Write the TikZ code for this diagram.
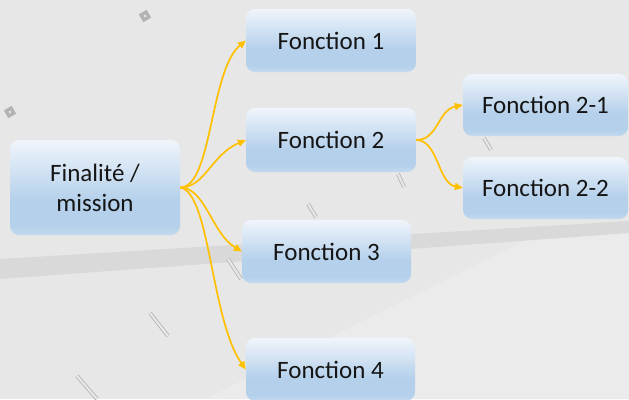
\documentclass[tikz,border=0pt]{standalone}
\usepackage{fontspec}
\setmainfont{Carlito}
\usetikzlibrary{arrows.meta}

\definecolor{bgcol}{HTML}{E7E7E7}
\definecolor{bglight}{HTML}{EBEBEB}
\definecolor{bandcol}{HTML}{D9D9D9}
\definecolor{markcol}{HTML}{B3B3B3}
\definecolor{linkcol}{HTML}{FFC000}
\definecolor{bxtop}{HTML}{F0F5FB}
\definecolor{bxblue}{HTML}{B4D0EB}
\definecolor{bxbot}{HTML}{C3DAEF}
\definecolor{txtcol}{HTML}{151515}

% vertical fill of the boxes: pale at the top, blue low down, a little lighter at the very bottom
\pgfdeclareverticalshading{boxshade}{100bp}{color(0bp)=(bxbot); color(25bp)=(bxbot); color(30bp)=(bxblue); color(43bp)=(bxblue); color(75bp)=(bxtop); color(100bp)=(bxtop)}

\tikzset{
  box/.style={rounded corners=9pt, shading=boxshade, draw=none,
    text=txtcol, align=center, inner sep=0pt,
    font=\fontsize{25}{30}\selectfont},
  link/.style={draw=linkcol, line width=1.7pt,
    -{Triangle[length=8pt,width=7pt]}},
  roadmark/.style={draw=markcol, line width=0.8pt, double=bgcol, double distance=2.2pt},
  stud/.style={fill=markcol}
}

\begin{document}
\begin{tikzpicture}[x=1pt,y=-1pt]
  \useasboundingbox (0,0) rectangle (629,399);
  % backdrop
  \fill[bgcol] (0,0) rectangle (629,399);
  \fill[bglight] (205,399) -- (535,236) -- (629,229) -- (629,399) -- cycle;
  \fill[bandcol] (0,259) -- (629,221) -- (629,233) -- (0,279) -- cycle;

  % faint road markings
  \draw[roadmark] (308,204) -- (316,217);
  \draw[roadmark] (228,259) -- (241,279);
  \draw[roadmark] (398,174) -- (404,187);
  \draw[roadmark] (484,138) -- (491,150);
  \draw[roadmark] (150,313) -- (168,336);
  \draw[roadmark] (77,376) -- (97,399);
  \fill[stud, rotate around={30:(145,16)}] (140.5,11.5) rectangle (149.5,20.5);
  \fill[bgcol!80!white] (145,16) circle (1.3pt);
  \fill[stud, rotate around={30:(10,112)}] (5.5,107.5) rectangle (14.5,116.5);
  \fill[bgcol!80!white] (10,112) circle (1.3pt);

  % boxes
  \node[box, minimum width=170pt, minimum height=95pt] (fin) at (95,187.5) {Finalité /\\mission};
  \node[box, minimum width=170pt, minimum height=63pt] (f1) at (331,40.5) {Fonction 1};
  \node[box, minimum width=170pt, minimum height=64pt] (f2) at (331,140) {Fonction 2};
  \node[box, minimum width=169pt, minimum height=63pt] (f3) at (326.5,251.5) {Fonction 3};
  \node[box, minimum width=169pt, minimum height=63pt] (f4) at (330.5,369.5) {Fonction 4};
  \node[box, minimum width=165pt, minimum height=62pt] (f21) at (545.5,105) {Fonction 2-1};
  \node[box, minimum width=165pt, minimum height=62pt] (f22) at (545.5,188) {Fonction 2-2};

  % links
  \draw[link] (fin.east) .. controls +(32,0) and +(-36,30) .. (f1.west);
  \draw[link] (fin.east) .. controls +(25,0) and +(-35,15) .. (f2.west);
  \draw[link] (fin.east) .. controls +(25,0) and +(-30,-18) .. (f3.west);
  \draw[link] (fin.east) .. controls +(30,5) and +(-35,-50) .. (f4.west);
  \draw[link] (f2.east) .. controls +(22,0) and +(-25,5) .. (f21.west);
  \draw[link] (f2.east) .. controls +(22,0) and +(-25,-5) .. (f22.west);
\end{tikzpicture}
\end{document}
